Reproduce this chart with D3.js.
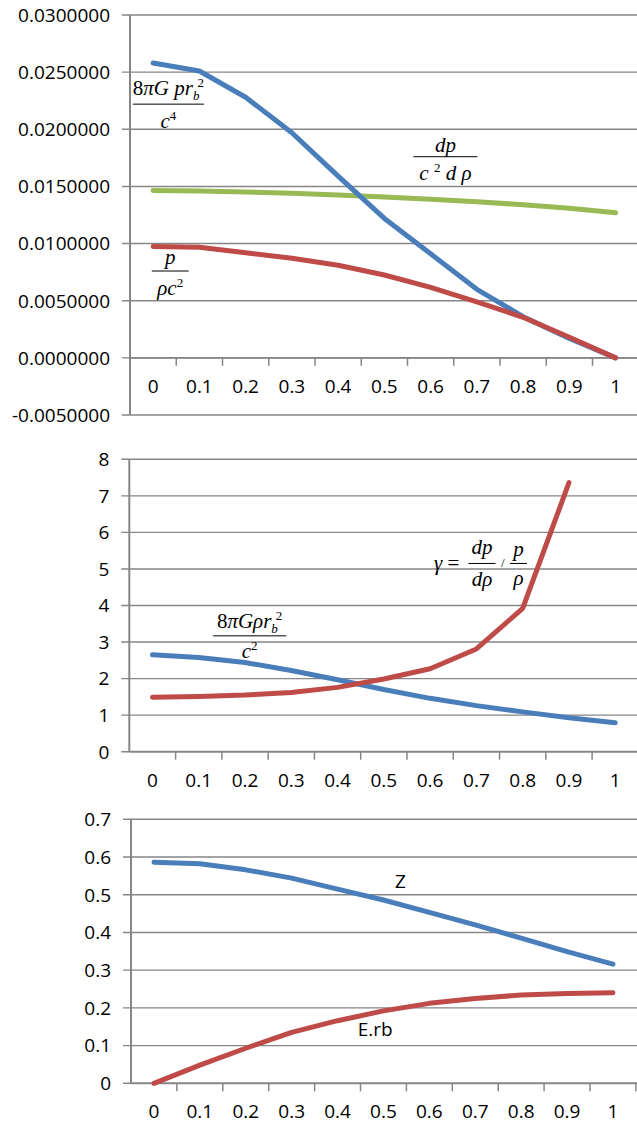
<!DOCTYPE html>
<html>
<head>
<meta charset="utf-8">
<script src="https://cdn.jsdelivr.net/npm/d3@7"></script>
<style>
  html, body { margin: 0; padding: 0; background: #fff; }
  svg { display: block; }
  .lbl { font-family: 'Open Sans', sans-serif; font-size: 19px; fill: #000; }
  .math { font-family: 'Liberation Serif', 'Times New Roman', serif; font-size: 21px; fill: #000; }
</style>
</head>
<body>
<div id="chart"></div>
<script>
// categories (r / rb)
const categories = ["0", "0.1", "0.2", "0.3", "0.4", "0.5", "0.6", "0.7", "0.8", "0.9", "1"];

// panel 1
const p1Ticks = [-0.005, 0, 0.005, 0.01, 0.015, 0.02, 0.025, 0.03];
const p1Pressure = [0.0258, 0.0251, 0.0228, 0.0197, 0.0159, 0.0122, 0.0091, 0.0060, 0.0036, 0.0017, 0.0];   // 8πGp rb²/c⁴
const p1Ratio    = [0.00975, 0.00968, 0.00920, 0.00872, 0.00810, 0.00725, 0.00617, 0.00490, 0.00355, 0.00180, 0.0]; // p/ρc²
const p1Slope    = [0.01464, 0.01460, 0.01452, 0.01441, 0.01426, 0.01408, 0.01388, 0.01366, 0.01340, 0.01310, 0.01270]; // dp/c²dρ

// panel 2
const p2Ticks = [0, 1, 2, 3, 4, 5, 6, 7, 8];
const p2Density = [2.65, 2.58, 2.44, 2.22, 1.97, 1.70, 1.46, 1.26, 1.09, 0.93, 0.79];
const p2Gamma   = [1.49, 1.51, 1.55, 1.62, 1.76, 1.99, 2.27, 2.81, 3.92, 7.36, null];

// panel 3
const p3Ticks = [0, 0.1, 0.2, 0.3, 0.4, 0.5, 0.6, 0.7];
const p3Z   = [0.586, 0.582, 0.566, 0.544, 0.515, 0.486, 0.453, 0.420, 0.385, 0.349, 0.316];
const p3Erb = [0.0, 0.048, 0.093, 0.135, 0.166, 0.192, 0.212, 0.225, 0.234, 0.238, 0.240];

const BLUE = "#4A7EBB", RED = "#BE4B48", GREEN = "#98B954", GRID = "#868686";

const W = 637, H = 1125;
const svg = d3.select("#chart").append("svg").attr("width", W).attr("height", H);

function panel(opt) {
  const g = svg.append("g");
  const x = d3.scaleBand().domain(categories).range([opt.left, opt.left + 11 * opt.band]);
  const y = d3.scaleLinear().domain(opt.domain).range([opt.bottom, opt.top]);
  // fractional category position -> pixel
  const xi = i => x(categories[0]) + x.bandwidth() * (i + 0.5);

  // gridlines + y ticks
  g.selectAll(".grid").data(opt.ticks).enter().append("line")
    .attr("x1", opt.left - 8).attr("x2", W)
    .attr("y1", d => y(d)).attr("y2", d => y(d))
    .attr("stroke", GRID).attr("stroke-width", 1.4);

  g.selectAll(".ylab").data(opt.ticks).enter().append("text")
    .attr("class", "lbl")
    .attr("x", opt.left - 20).attr("y", d => y(d) + 6.8)
    .attr("text-anchor", "end")
    .text(opt.fmt);

  // y axis
  g.append("line")
    .attr("x1", opt.left).attr("x2", opt.left)
    .attr("y1", y(opt.domain[1])).attr("y2", y(opt.domain[0]))
    .attr("stroke", GRID).attr("stroke-width", 2);

  // category axis at zero
  const y0 = y(0);
  g.append("line")
    .attr("x1", opt.left).attr("x2", W)
    .attr("y1", y0).attr("y2", y0)
    .attr("stroke", GRID).attr("stroke-width", 1.8);

  g.selectAll(".xtick").data(categories.slice(1).concat(["end"])).enter().append("line")
    .attr("x1", (d, i) => x(categories[0]) + x.bandwidth() * (i + 1))
    .attr("x2", (d, i) => x(categories[0]) + x.bandwidth() * (i + 1))
    .attr("y1", y0).attr("y2", y0 + 8)
    .attr("stroke", GRID).attr("stroke-width", 1.5);

  g.selectAll(".xlab").data(categories).enter().append("text")
    .attr("class", "lbl")
    .attr("x", d => x(d) + x.bandwidth() / 2)
    .attr("y", y0 + 35)
    .attr("text-anchor", "middle")
    .text(d => d);

  // series
  const line = d3.line()
    .defined(d => d != null)
    .x((d, i) => x(categories[i]) + x.bandwidth() / 2)
    .y(d => y(d));

  opt.series.forEach(s => {
    g.append("path")
      .datum(s.values)
      .attr("d", line)
      .attr("fill", "none")
      .attr("stroke", s.color)
      .attr("stroke-width", 5)
      .attr("stroke-linecap", "round")
      .attr("stroke-linejoin", "round");
  });

  return { g, x, y, xi };
}

// draws math text parts into a text element
function parts(text, list) {
  let shift = 0;
  list.forEach(p => {
    const target = p.s === "sub" ? 5 : p.s === "sup" ? -8 : 0;
    const ts = text.append("tspan")
      .attr("dy", target - shift)
      .style("font-style", p.s === "r" || p.s === "sup" ? "normal" : "italic")
      .style("font-size", p.s === "sub" || p.s === "sup" ? "13px" : null)
      .text(p.t);
    if (p.dx) ts.attr("dx", p.dx);
    shift = target;
  });
}

function frac(g, cx, by, w, num, den, numGap, denGap) {
  g.append("text").attr("class", "math")
    .attr("x", cx).attr("y", by - numGap).attr("text-anchor", "middle")
    .call(t => parts(t, num));
  g.append("line")
    .attr("x1", cx - w / 2).attr("x2", cx + w / 2)
    .attr("y1", by).attr("y2", by)
    .attr("stroke", "#000").attr("stroke-width", 1);
  g.append("text").attr("class", "math")
    .attr("x", cx).attr("y", by + denGap).attr("text-anchor", "middle")
    .call(t => parts(t, den));
}

// ---- panel 1
const a = panel({
  left: 130, band: 46.25, top: 15, bottom: 415,
  domain: [-0.005, 0.03], ticks: p1Ticks, fmt: d => d.toFixed(7),
  series: [
    { values: p1Slope, color: GREEN },
    { values: p1Pressure, color: BLUE },
    { values: p1Ratio, color: RED }
  ]
});
frac(a.g, a.xi(0.33), a.y(0.0222), 71,
  [{ t: "8", s: "r" }, { t: "πG", s: "i" }, { t: " pr", s: "i" }, { t: "b", s: "sub" }, { t: "2", s: "sup", dx: -2 }],
  [{ t: "c", s: "i" }, { t: "4", s: "sup" }], 9, 24);
frac(a.g, a.xi(6.32), a.y(0.0176), 64,
  [{ t: "dp", s: "i" }],
  [{ t: "c ", s: "i" }, { t: "2", s: "sup" }, { t: " d ρ", s: "i" }], 5, 23);
frac(a.g, a.xi(0.37), a.y(0.0076), 37,
  [{ t: "p", s: "i" }],
  [{ t: "ρc", s: "i" }, { t: "2", s: "sup" }], 7, 24);

// ---- panel 2
const b = panel({
  left: 129.3, band: 46.28, top: 459.3, bottom: 751.7,
  domain: [0, 8], ticks: p2Ticks, fmt: d => String(d),
  series: [
    { values: p2Density, color: BLUE },
    { values: p2Gamma, color: RED }
  ]
});
frac(b.g, b.xi(2.1), b.y(3.17), 73,
  [{ t: "8", s: "r" }, { t: "πGρr", s: "i" }, { t: "b", s: "sub" }, { t: "2", s: "sup", dx: -2 }],
  [{ t: "c", s: "i" }, { t: "2", s: "sup" }], 8, 22);
{
  const gx = b.xi(7.12), gy = b.y(5.15);
  b.g.append("text").attr("class", "math")
    .attr("x", gx - 48).attr("y", gy + 7)
    .call(t => parts(t, [{ t: "γ", s: "i" }, { t: " =", s: "r" }]));
  frac(b.g, gx, gy, 27, [{ t: "dp", s: "i" }], [{ t: "dρ", s: "i" }], 9, 23);
  b.g.append("text").attr("class", "math")
    .attr("x", gx + 19).attr("y", gy + 4).style("font-size", "13px")
    .text("/");
  frac(b.g, gx + 36.5, gy, 17, [{ t: "p", s: "i" }], [{ t: "ρ", s: "i" }], 7, 22);
}

// ---- panel 3
const c = panel({
  left: 131, band: 45.9, top: 819.3, bottom: 1083.3,
  domain: [0, 0.7], ticks: p3Ticks, fmt: d => d === 0 ? "0" : d.toFixed(1),
  series: [
    { values: p3Z, color: BLUE },
    { values: p3Erb, color: RED }
  ]
});
c.g.append("text").attr("class", "lbl")
  .attr("x", c.xi(5.25)).attr("y", c.y(0.517)).text("Z");
c.g.append("text").attr("class", "lbl")
  .attr("x", c.xi(4.44)).attr("y", c.y(0.126)).text("E.rb");
</script>
</body>
</html>
